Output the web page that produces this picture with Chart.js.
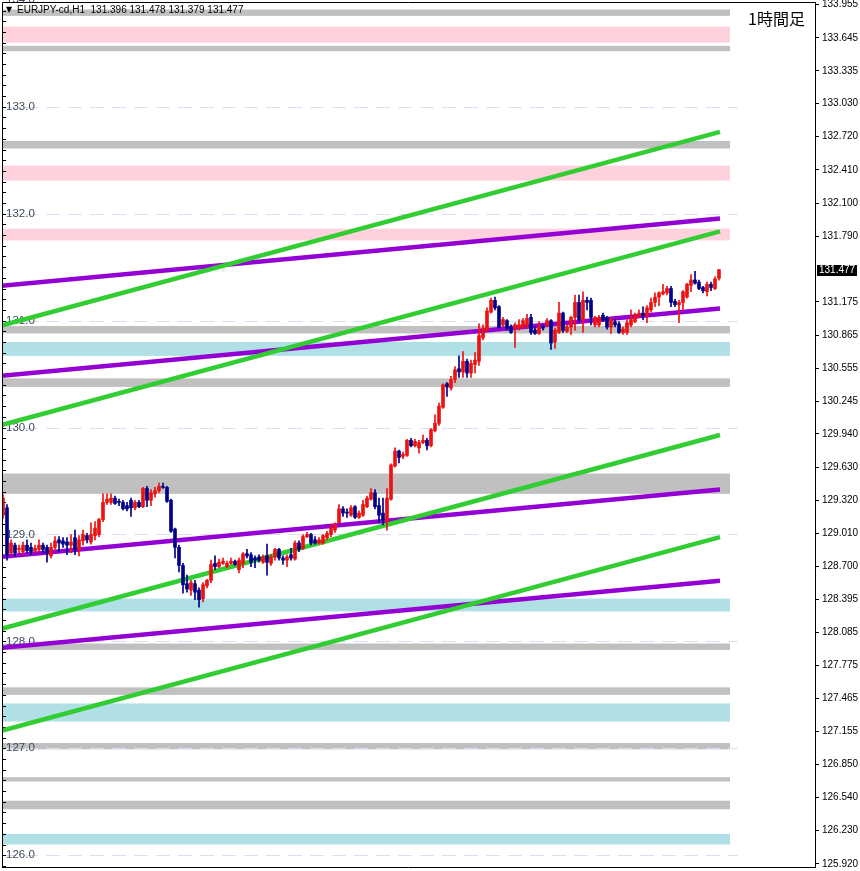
<!DOCTYPE html>
<html><head><meta charset="utf-8">
<script src="https://cdn.jsdelivr.net/npm/chart.js@4/dist/chart.umd.min.js"></script>
<style>html,body{margin:0;padding:0;background:#fff;}#wrap{width:860px;height:871px;}</style>
</head><body><div id="wrap"><canvas id="c" width="860" height="871"></canvas></div>
<script>
// ---------------- DATA ----------------
const symbolTitle = "EURJPY-cd,H1";
const timeframeLabel = "1時間足";
const lastQuote = [131.396, 131.478, 131.379, 131.477]; // O H L C of last bar

const opens = [129.18,129.25,128.83,128.90,128.86,128.84,128.90,128.88,128.85,128.86,
128.90,128.88,128.80,128.88,128.95,128.94,128.93,128.90,128.97,128.86,
128.94,128.99,128.93,128.99,129.00,129.14,129.30,129.30,129.34,129.31,
129.30,129.27,129.32,129.25,129.30,129.26,129.43,129.32,129.38,129.41,
129.45,129.44,129.32,129.05,128.88,128.71,128.54,128.48,128.54,128.48,
128.40,128.52,128.57,128.73,128.70,128.73,128.70,128.73,128.75,128.67,
128.73,128.82,128.81,128.78,128.79,128.74,128.80,128.73,128.79,128.86,
128.78,128.76,128.81,128.77,128.92,128.87,128.98,129.00,128.95,128.92,
128.92,128.97,129.00,129.04,129.11,129.24,129.21,129.18,129.26,129.16,
129.18,129.26,129.33,129.39,129.27,129.20,129.12,129.33,129.64,129.78,
129.73,129.74,129.88,129.83,129.81,129.86,129.88,129.83,129.97,130.04,
130.19,130.41,130.37,130.45,130.55,130.52,130.62,130.51,130.59,130.62,
130.84,130.91,131.08,131.19,131.13,130.96,131.00,130.94,130.93,130.93,
130.94,130.96,131.03,130.91,130.88,130.94,130.96,131.00,130.80,130.89,
131.07,130.90,130.94,131.03,131.17,131.01,131.19,131.19,130.96,130.96,
131.05,131.03,130.94,130.99,130.97,130.89,130.89,130.96,130.99,131.04,
131.07,131.05,131.10,131.17,131.22,131.25,131.26,131.30,131.18,131.15,
131.17,131.22,131.33,131.38,131.36,131.31,131.27,131.34,131.30,131.396];

const highs = [129.37,129.28,128.95,128.92,128.90,128.93,128.95,128.92,128.90,128.95,
128.92,128.90,128.92,128.98,128.98,128.97,128.97,129.00,129.04,128.99,
129.04,129.01,129.11,129.12,129.15,129.38,129.38,129.38,129.36,129.33,
129.32,129.30,129.34,129.32,129.32,129.44,129.45,129.42,129.44,129.48,
129.48,129.45,129.33,129.06,128.90,128.73,128.62,128.57,128.57,128.50,
128.55,128.58,128.76,128.80,128.77,128.78,128.75,128.78,128.76,128.78,
128.83,128.86,128.83,128.80,128.81,128.81,128.91,128.81,128.87,128.87,
128.80,128.81,128.87,128.94,128.94,129.00,129.02,129.01,128.98,128.97,
129.00,129.03,129.09,129.11,129.28,129.26,129.24,129.27,129.27,129.22,
129.32,129.36,129.43,129.42,129.34,129.34,129.43,129.66,129.81,129.79,
129.77,129.89,129.90,129.89,129.88,129.93,129.90,129.99,130.12,130.23,
130.41,130.42,130.48,130.57,130.67,130.71,130.64,130.63,130.70,130.97,
130.96,131.12,131.21,131.22,131.14,131.03,131.01,130.96,130.98,131.01,
131.02,131.06,131.06,130.94,130.99,130.96,131.02,131.01,130.93,131.17,
131.08,130.96,131.04,131.24,131.24,131.27,131.22,131.21,131.04,131.05,
131.07,131.04,131.03,131.01,130.99,130.94,131.01,131.10,131.07,131.10,
131.13,131.14,131.21,131.26,131.27,131.34,131.32,131.32,131.20,131.19,
131.28,131.35,131.43,131.46,131.38,131.32,131.36,131.36,131.41,131.478];

const lows = [129.15,128.76,128.81,128.80,128.83,128.81,128.83,128.81,128.83,128.84,
128.83,128.74,128.78,128.86,128.84,128.88,128.81,128.83,128.81,128.80,
128.90,128.92,128.91,128.95,128.98,129.12,129.28,129.28,129.28,129.27,
129.23,129.22,129.17,129.23,129.25,129.25,129.26,129.27,129.35,129.39,
129.43,129.30,129.02,128.78,128.65,128.45,128.46,128.43,128.39,128.32,
128.37,128.50,128.55,128.67,128.69,128.72,128.69,128.72,128.71,128.64,
128.69,128.78,128.70,128.69,128.74,128.73,128.62,128.71,128.76,128.76,
128.72,128.70,128.76,128.76,128.84,128.86,128.97,128.90,128.91,128.91,
128.91,128.95,128.98,129.02,129.10,129.17,129.16,129.17,129.15,129.15,
129.17,129.25,129.32,129.24,129.11,129.09,129.04,129.32,129.63,129.67,
129.71,129.73,129.82,129.82,129.76,129.85,129.79,129.82,129.96,130.02,
130.18,130.29,130.35,130.42,130.47,130.47,130.47,130.47,130.51,130.58,
130.82,130.90,131.07,131.10,130.93,130.94,130.91,130.88,130.75,130.91,
130.93,130.93,130.87,130.87,130.87,130.91,130.94,130.73,130.74,130.88,
130.89,130.89,130.87,130.91,130.99,130.89,131.10,130.96,130.94,130.94,
130.99,130.92,130.88,130.94,130.88,130.87,130.87,130.94,130.98,131.03,
131.01,130.98,131.08,131.13,131.14,131.24,131.24,131.13,131.13,130.98,
131.10,131.21,131.27,131.34,131.29,131.26,131.23,131.28,131.29,131.379];

const closes = [129.34,128.81,128.92,128.83,128.87,128.90,128.85,128.84,128.87,128.90,
128.86,128.83,128.88,128.94,128.92,128.91,128.90,128.93,128.86,128.95,
129.00,128.95,129.00,129.06,129.14,129.30,129.33,129.34,129.29,129.30,
129.24,129.24,129.25,129.30,129.26,129.43,129.32,129.39,129.41,129.45,
129.44,129.31,129.03,128.88,128.71,128.53,128.49,128.55,128.46,128.39,
128.53,128.57,128.72,128.70,128.74,128.75,128.73,128.75,128.72,128.76,
128.82,128.80,128.74,128.76,128.76,128.79,128.74,128.79,128.86,128.78,
128.76,128.79,128.78,128.92,128.86,128.98,129.00,128.92,128.92,128.95,
128.99,129.01,129.06,129.09,129.24,129.20,129.20,129.25,129.16,129.20,
129.28,129.34,129.39,129.26,129.18,129.14,129.34,129.65,129.78,129.72,
129.75,129.88,129.83,129.87,129.86,129.88,129.83,129.98,130.04,130.20,
130.40,130.38,130.45,130.54,130.52,130.62,130.51,130.60,130.63,130.86,
130.93,131.09,131.19,131.12,130.94,131.01,130.93,130.89,130.96,130.96,
131.00,131.02,130.89,130.88,130.94,130.93,131.00,130.79,130.91,131.07,
130.91,130.94,131.03,131.17,131.01,131.19,131.17,131.03,131.03,131.03,
131.01,130.94,131.01,130.96,130.89,130.92,130.98,131.01,131.05,131.07,
131.05,131.12,131.17,131.22,131.26,131.27,131.30,131.17,131.15,131.17,
131.27,131.34,131.38,131.35,131.30,131.28,131.34,131.31,131.39,131.477];

// right price-axis tick labels
const rightTicks = [133.955,133.645,133.335,133.030,132.720,132.410,132.100,131.790,
131.175,130.865,130.555,130.245,129.940,129.630,129.320,129.010,128.700,128.395,
128.085,127.775,127.465,127.155,126.850,126.540,126.230,125.920];
// round-number levels (dashed lines + left labels)
const roundLevels = [134,133,132,131,130,129,128,127,126];

// horizontal zones
const bandLow  = [133.85,133.60,133.52,132.61,132.31,131.75,130.88,130.67,130.38,129.38,128.28,127.92,127.50,127.25,126.99,126.69,126.43,126.10];
const bandHigh = [133.91,133.75,133.57,132.68,132.45,131.86,130.95,130.80,130.46,129.57,128.40,127.98,127.57,127.42,127.05,126.73,126.51,126.20];
const bandKind = ['gray','pink','gray','gray','pink','pink','gray','cyan','gray','gray','cyan','gray','gray','cyan','gray','gray','gray','cyan'];

// trend channel lines: value at first and last bar position
const trendX = [-0.75, 179.25];
const greenStart  = [130.95, 130.02, 128.115, 127.16];
const greenEnd    = [132.765, 131.835, 129.93, 128.975];
const purpleStart = [131.325, 130.483, 128.79, 127.938];
const purpleEnd   = [131.955, 131.113, 129.42, 128.568];

// ---------------- STYLE ----------------
const UP = '#ee1111', DOWN = '#000088';
const BAND_COLORS = {gray:'#c0c0c0', pink:'#ffd1dc', cyan:'#b0e0e6'};
const GREEN = '#32cd32', PURPLE = '#9400d3';
const X_MIN = -0.25, X_MAX = 203, ZONE_END = 181.75, LEVEL_END = 183.75;

const idx = closes.map((_, i) => i);
const colorFor = ctx => (closes[ctx.dataIndex] >= opens[ctx.dataIndex] ? UP : DOWN);

const datasets = [];
datasets.push({
  type:'bar', label:'body', data: idx.map(i => ({x:i, y:[opens[i], closes[i]]})),
  backgroundColor: colorFor, borderWidth:0, barThickness:3, minBarLength:1, grouped:false, order:1
});
datasets.push({
  type:'bar', label:'wick', data: idx.map(i => ({x:i, y:[lows[i], highs[i]]})),
  backgroundColor: colorFor, borderWidth:0, barThickness:1, minBarLength:1, grouped:false, order:2
});
greenStart.forEach((v, k) => datasets.push({
  type:'line', data:[{x:trendX[0], y:v},{x:trendX[1], y:greenEnd[k]}],
  borderColor:GREEN, borderWidth:4.5, pointRadius:0, order:3, borderCapStyle:'butt'
}));
purpleStart.forEach((v, k) => datasets.push({
  type:'line', data:[{x:trendX[0], y:v},{x:trendX[1], y:purpleEnd[k]}],
  borderColor:PURPLE, borderWidth:4.5, pointRadius:0, order:3, borderCapStyle:'butt'
}));

const decorations = {
  id:'decorations',
  beforeDatasetsDraw(chart) {
    const {ctx, chartArea:a, scales:{x, y}} = chart;
    ctx.save();
    ctx.beginPath(); ctx.rect(a.left, a.top, a.right - a.left, a.bottom - a.top); ctx.clip();
    const xe = x.getPixelForValue(ZONE_END);
    bandLow.forEach((lo, k) => {
      const y1 = y.getPixelForValue(bandHigh[k]), y2 = y.getPixelForValue(lo);
      ctx.fillStyle = BAND_COLORS[bandKind[k]];
      ctx.fillRect(a.left, y1, xe - a.left, y2 - y1);
    });
    const le = x.getPixelForValue(LEVEL_END);
    ctx.strokeStyle = '#dcdcf2'; ctx.lineWidth = 1; ctx.setLineDash([14, 8]);
    roundLevels.forEach(v => {
      const py = Math.round(y.getPixelForValue(v)) + 0.5;
      ctx.beginPath(); ctx.moveTo(a.left, py); ctx.lineTo(le, py); ctx.stroke();
    });
    ctx.setLineDash([]);
    ctx.restore();
    ctx.save();
    ctx.font = '11.5px "Liberation Sans"'; ctx.fillStyle = '#3b4a5c'; ctx.textBaseline = 'middle';
    roundLevels.forEach(v => {
      ctx.fillText(v.toFixed(1), a.left + 4, y.getPixelForValue(v));
    });
    // small ticks along the left edge every 0.1
    ctx.strokeStyle = '#000'; ctx.lineWidth = 1;
    for (let t = Math.ceil(y.min * 10); t <= Math.floor(y.max * 10); t++) {
      const py = Math.round(y.getPixelForValue(t / 10)) + 0.5;
      ctx.beginPath(); ctx.moveTo(a.left, py); ctx.lineTo(a.left + 4, py); ctx.stroke();
    }
    ctx.restore();
  },
  afterDraw(chart) {
    const {ctx, chartArea:a, scales:{y}} = chart;
    ctx.save();
    ctx.strokeStyle = '#000'; ctx.lineWidth = 1;
    ctx.beginPath();
    ctx.moveTo(a.left + 0.5, a.bottom + 0.5); ctx.lineTo(a.left + 0.5, a.top + 0.5);
    ctx.lineTo(a.right, a.top + 0.5);
    ctx.moveTo(a.left, a.bottom + 0.5); ctx.lineTo(a.right, a.bottom + 0.5);
    ctx.stroke();
    // title
    ctx.fillStyle = '#000'; ctx.textBaseline = 'middle';
    ctx.font = '8px "DejaVu Sans"'; ctx.fillText('▼', a.left + 4, 10);
    ctx.font = '10px "Liberation Sans"';
    ctx.fillText(symbolTitle + '  ' + lastQuote.map(v => v.toFixed(3)).join(' '), a.left + 15, 10);
    ctx.font = '16px "Noto Sans CJK JP"';
    ctx.fillText(timeframeLabel, 748, 19);
    // current price box
    const py = Math.round(y.getPixelForValue(lastQuote[3]));
    ctx.fillStyle = '#000'; ctx.fillRect(a.right + 2, py - 5, 40, 11);
    ctx.fillStyle = '#fff'; ctx.font = '10px "Liberation Sans"';
    ctx.fillText(lastQuote[3].toFixed(3), a.right + 4, py + 0.5);
    ctx.restore();
  }
};

new Chart(document.getElementById('c'), {
  type:'bar',
  data:{datasets},
  options:{
    responsive:false, animation:false, devicePixelRatio:1,
    layout:{padding:{left:2, top:2, right:0, bottom:4}},
    plugins:{legend:{display:false}, tooltip:{enabled:false}},
    scales:{
      x:{type:'linear', display:false, min:X_MIN, max:X_MAX, offset:false},
      y:{position:'right', min:125.89, max:133.98,
        afterBuildTicks: ax => { ax.ticks = rightTicks.map(v => ({value:v})); },
        afterFit: ax => { ax.width = 45; ax.paddingTop = 0; ax.paddingBottom = 0; },
        ticks:{color:'#000', font:{family:'Liberation Sans', size:10}, padding:3, autoSkip:false,
               callback: v => Number(v).toFixed(3)},
        grid:{drawOnChartArea:false, drawTicks:true, tickLength:4, tickColor:'#000'},
        border:{display:true, color:'#000', width:1}
      }
    }
  },
  plugins:[decorations]
});
</script></body></html>
